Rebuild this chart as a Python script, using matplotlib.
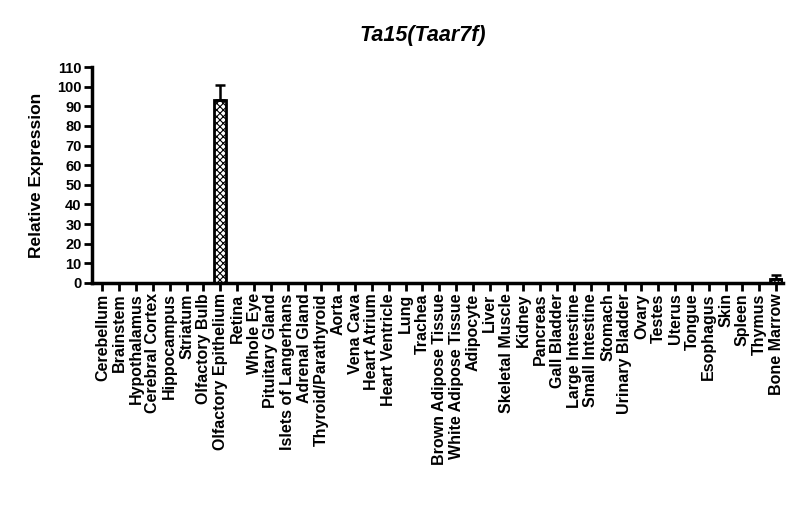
import matplotlib
matplotlib.use("Agg")
import matplotlib.pyplot as plt
import numpy as np

plt.rcParams['font.family'] = ['Liberation Sans', 'DejaVu Sans']
plt.rcParams['hatch.linewidth'] = 0.8

tissues = ["Cerebellum", "Brainstem", "Hypothalamus", "Cerebral Cortex", "Hippocampus",
           "Striatum", "Olfactory Bulb", "Olfactory Epithelium", "Retina", "Whole Eye",
           "Pituitary Gland", "Islets of Langerhans", "Adrenal Gland", "Thyroid/Parathyroid",
           "Aorta", "Vena Cava", "Heart Atrium", "Heart Ventricle", "Lung", "Trachea",
           "Brown Adipose Tissue", "White Adipose Tissue", "Adipocyte", "Liver",
           "Skeletal Muscle", "Kidney", "Pancreas", "Gall Bladder", "Large Intestine",
           "Small Intestine", "Stomach", "Urinary Bladder", "Ovary", "Testes", "Uterus",
           "Tongue", "Esophagus", "Skin", "Spleen", "Thymus", "Bone Marrow"]
values = [0.1, 0.1, 0.1, 0.1, 0.1, 0.1, 0.1, 93.0, 0.1, 0.1,
          0.1, 0.1, 0.1, 0.1, 0.1, 0.1, 0.1, 0.1, 0.1, 0.1,
          0.1, 0.1, 0.1, 0.1, 0.1, 0.1, 0.1, 0.1, 0.1, 0.1,
          0.1, 0.1, 0.1, 0.1, 0.1, 0.1, 0.1, 0.1, 0.1, 0.1, 2.0]
errors = [0, 0, 0, 0, 0, 0, 0, 8.0, 0, 0,
          0, 0, 0, 0, 0, 0, 0, 0, 0, 0,
          0, 0, 0, 0, 0, 0, 0, 0, 0, 0,
          0, 0, 0, 0, 0, 0, 0, 0, 0, 0, 2.0]
yticks = list(range(0, 111, 10))

fig = plt.figure(figsize=(8, 5.22), dpi=100)
ax = fig.add_axes([0.115, 0.458, 0.864, 0.4135])

x = np.arange(len(tissues))
ax.bar(x, values, width=0.72, color='white', edgecolor='black', linewidth=2,
       hatch='xxxxx', zorder=2)
err_lo = np.zeros(len(errors))
ax.errorbar(x, values, yerr=[err_lo, errors], fmt='none', ecolor='black',
            elinewidth=1.8, capsize=3.5, capthick=1.8, zorder=3)

ax.set_xlim(-0.62, 40.42)
ax.set_ylim(0, 110)
ax.set_yticks(yticks)
ax.set_yticklabels([str(t) for t in yticks], fontsize=10.5, fontweight='bold')
ax.set_xticks(x)
ax.set_xticklabels(tissues, rotation=90, fontsize=11.5, fontweight='bold')
ax.tick_params(axis='both', direction='out', length=6, width=2, pad=1.5)

for s in ['top', 'right']:
    ax.spines[s].set_visible(False)
for s in ['left', 'bottom']:
    ax.spines[s].set_linewidth(2.5)

ax.set_ylabel("Relative Expression", fontsize=12.5, fontweight='bold')
ax.yaxis.set_label_coords(-0.07, 0.5)
fig.text(423 / 800, 1 - 35 / 522, "Ta15(Taar7f)", fontsize=15.5, fontweight='bold',
         fontstyle='italic', ha='center', va='center')

fig.savefig("out.png", dpi=100)
